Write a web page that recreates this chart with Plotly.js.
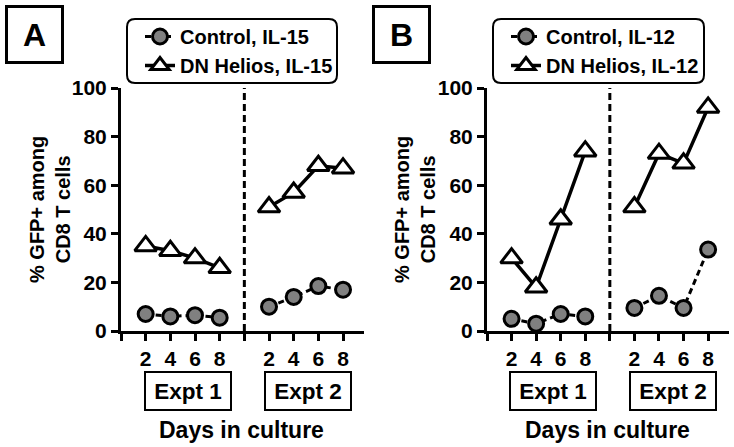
<!DOCTYPE html>
<html><head><meta charset="utf-8">
<script src="https://cdn.plot.ly/plotly-3.0.1.min.js"></script>
<style>html,body{margin:0;padding:0;background:#fff}</style>
</head><body><div id="chart" style="width:734px;height:447px"></div>
<script>
// ---- data ----
const days = [2, 4, 6, 8];
const experiments = ['Expt 1', 'Expt 2'];
const namesA = ['Control, IL-15', 'DN Helios, IL-15'];
const namesB = ['Control, IL-12', 'DN Helios, IL-12'];
const controlA_expt1 = [7, 6, 6.5, 5.5];
const controlA_expt2 = [10, 14, 18.5, 17];
const helioA_expt1 = [35, 33, 30, 26];
const helioA_expt2 = [51, 57, 68, 67];
const controlB_expt1 = [5, 3, 7, 6];
const controlB_expt2 = [9.5, 14.5, 9.5, 33.5];
const helioB_expt1 = [30, 18, 46, 74];
const helioB_expt2 = [51, 73, 69, 92];
const yTicks = [0, 20, 40, 60, 80, 100];
const yTitle = '% GFP+ among<br>CD8 T cells';
const xTitle = 'Days in culture';
const panelLabels = ['A', 'B'];

// ---- helpers ----
const W = 734, H = 447;
const px = v => v / W;
const py = v => 1 - v / H;
const FONT = 'Arial, "Liberation Sans", sans-serif';
const n = days.length;
const xPos = [];
const tickVals = [0];
const tickText = [''];
experiments.forEach((e, k) => {
  days.forEach((d, i) => { xPos.push(k * (n + 1) + i + 1); tickVals.push(k * (n + 1) + i + 1); tickText.push(String(d)); });
  if (k < experiments.length - 1) { xPos.push(k * (n + 1) + n + 1); tickVals.push(k * (n + 1) + n + 1); tickText.push(''); }
});
const divider = n + 1;
function joinY(a, b) { return a.concat([null], b); }

const ctrlStyle = {
  mode: 'lines+markers', connectgaps: false, cliponaxis: false,
  line: { color: 'black', width: 3, dash: '6px,4px' },
  marker: { symbol: 'circle', size: 15, color: '#808080', line: { color: 'black', width: 3 } }
};
const dnStyle = {
  mode: 'lines+markers', connectgaps: false, cliponaxis: false,
  line: { color: 'black', width: 3.5 },
  marker: { symbol: 'triangle-up', size: 19, color: 'white', line: { color: 'black', width: 3 } }
};

const traces = [
  Object.assign({ name: namesA[0], x: xPos, y: joinY(controlA_expt1, controlA_expt2), xaxis: 'x', yaxis: 'y', legend: 'legend' }, ctrlStyle),
  Object.assign({ name: namesA[1], x: xPos, y: joinY(helioA_expt1, helioA_expt2), xaxis: 'x', yaxis: 'y', legend: 'legend' }, dnStyle),
  Object.assign({ name: namesB[0], x: xPos, y: joinY(controlB_expt1, controlB_expt2), xaxis: 'x2', yaxis: 'y2', legend: 'legend2' }, ctrlStyle),
  Object.assign({ name: namesB[1], x: xPos, y: joinY(helioB_expt1, helioB_expt2), xaxis: 'x2', yaxis: 'y2', legend: 'legend2' }, dnStyle)
];

const yDomain = [py(331), py(88)];
function xAxis(domain, anchor) {
  return {
    domain: domain, anchor: anchor, range: [0, 9.85],
    tickmode: 'array', tickvals: tickVals, ticktext: tickText,
    ticks: 'outside', ticklen: 7, tickwidth: 3, tickcolor: 'black',
    showline: true, linewidth: 3, linecolor: 'black',
    showgrid: false, zeroline: false, layer: 'below traces', fixedrange: true,
    tickfont: { family: FONT, size: 21, weight: 'bold', color: 'black' }
  };
}
function yAxis(anchor) {
  return {
    domain: yDomain, anchor: anchor, range: [0, 100],
    tickmode: 'array', tickvals: yTicks,
    ticks: 'outside', ticklen: 7, tickwidth: 3, tickcolor: 'black',
    showline: true, linewidth: 3, linecolor: 'black',
    showgrid: false, zeroline: false, layer: 'below traces', fixedrange: true,
    tickfont: { family: FONT, size: 21, weight: 'bold', color: 'black' }
  };
}
function legendCfg(x) {
  return {
    x: px(x), y: py(17), xanchor: 'left', yanchor: 'top',
    bgcolor: 'rgba(0,0,0,0)', borderwidth: 0, itemwidth: 30, tracegroupgap: 0,
    traceorder: 'normal',
    font: { family: FONT, size: 20, weight: 'bold', color: 'black' }
  };
}
function roundRect(x0, y0, x1, y1, r) {
  const X0 = px(x0), X1 = px(x1), Y0 = py(y0), Y1 = py(y1);
  const rx = px(r), ry = r / H;
  return `M${X0 + rx},${Y0} L${X1 - rx},${Y0} Q${X1},${Y0} ${X1},${Y0 - ry} L${X1},${Y1 + ry} Q${X1},${Y1} ${X1 - rx},${Y1} L${X0 + rx},${Y1} Q${X0},${Y1} ${X0},${Y1 + ry} L${X0},${Y0 - ry} Q${X0},${Y0} ${X0 + rx},${Y0} Z`;
}

const shapes = [
  { type: 'line', xref: 'x', yref: 'y', x0: divider, x1: divider, y0: 0, y1: 100, line: { color: 'black', width: 3, dash: '7px,4px' } },
  { type: 'line', xref: 'x2', yref: 'y2', x0: divider, x1: divider, y0: 0, y1: 100, line: { color: 'black', width: 3, dash: '7px,4px' } },
  { type: 'path', xref: 'paper', yref: 'paper', path: roundRect(127, 19, 337, 83, 8), line: { color: 'black', width: 2 } },
  { type: 'path', xref: 'paper', yref: 'paper', path: roundRect(493, 19, 704, 83, 8), line: { color: 'black', width: 2 } }
];

const annotations = [];
function panelAnn(label, cx, yTitleX, exptCenters, daysX) {
  annotations.push({ text: label, xref: 'paper', yref: 'paper', x: px(cx), y: py(34.5), xanchor: 'center', yanchor: 'middle',
    showarrow: false, width: 53, height: 53, borderwidth: 3, bordercolor: 'black', borderpad: 0,
    font: { family: FONT, size: 32, weight: 'bold', color: 'black' } });
  annotations.push({ text: yTitle, xref: 'paper', yref: 'paper', x: px(yTitleX), y: py(210), xanchor: 'center', yanchor: 'middle',
    showarrow: false, textangle: -90, font: { family: FONT, size: 20, weight: 'bold', color: 'black' } });
  experiments.forEach((e, k) => {
    annotations.push({ text: e, xref: 'paper', yref: 'paper', x: px(exptCenters[k]), y: py(391), xanchor: 'center', yanchor: 'middle',
      showarrow: false, width: 84, height: 36, borderwidth: 2, bordercolor: 'black', borderpad: 0,
      font: { family: FONT, size: 22.5, weight: 'bold', color: 'black' } });
  });
  annotations.push({ text: xTitle, xref: 'paper', yref: 'paper', x: px(daysX), y: py(430), xanchor: 'center', yanchor: 'middle',
    showarrow: false, font: { family: FONT, size: 23, weight: 'bold', color: 'black' } });
}
panelAnn(panelLabels[0], 34.5, 50, [187.5, 307.5], 241);
panelAnn(panelLabels[1], 401, 415, [553, 673], 607.5);

const layout = {
  width: W, height: H,
  margin: { l: 0, r: 0, t: 0, b: 0 },
  paper_bgcolor: 'white', plot_bgcolor: 'white',
  showlegend: true,
  xaxis: xAxis([px(121), px(364)], 'y'),
  yaxis: yAxis('x'),
  xaxis2: xAxis([px(487), px(729)], 'y2'),
  yaxis2: yAxis('x2'),
  legend: legendCfg(140),
  legend2: legendCfg(506),
  shapes: shapes,
  annotations: annotations,
  font: { family: FONT, color: 'black' }
};

Plotly.newPlot('chart', traces, layout, { displayModeBar: false, staticPlot: true });
</script>
</body></html>
